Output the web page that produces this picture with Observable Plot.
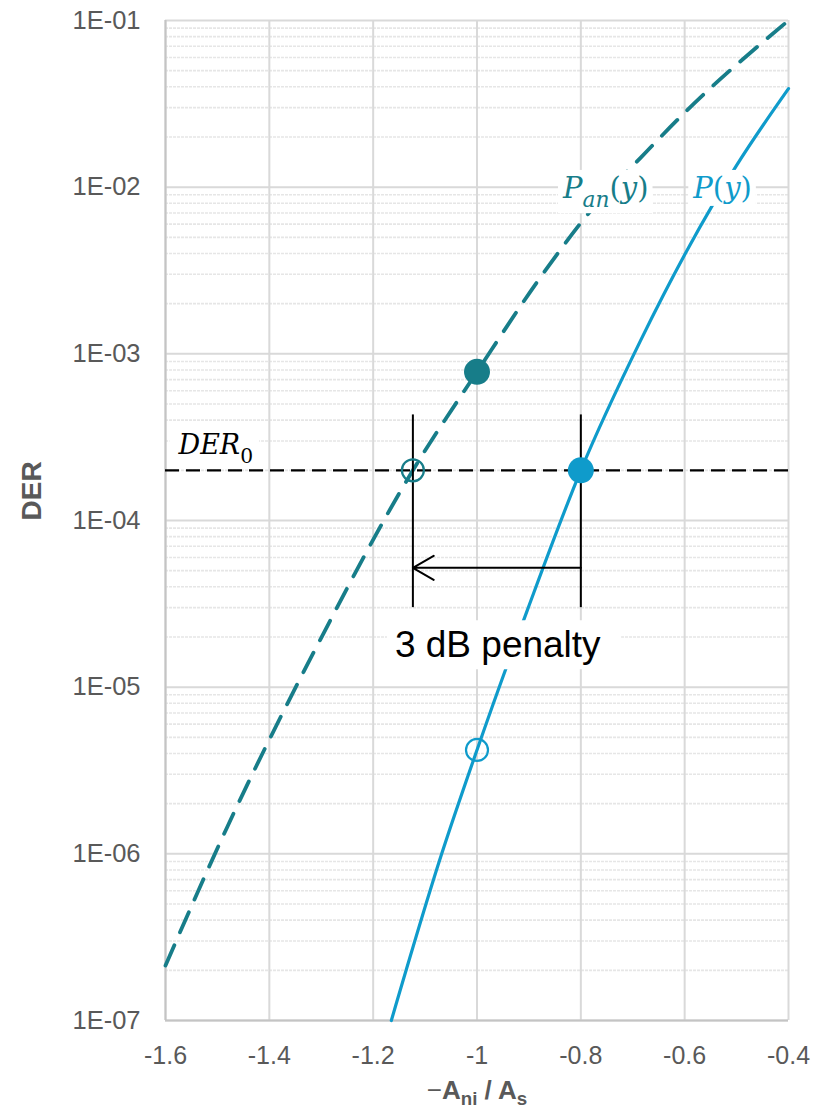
<!DOCTYPE html>
<html>
<head>
<meta charset="utf-8">
<script src="https://cdn.jsdelivr.net/npm/d3@7"></script>
<script src="https://cdn.jsdelivr.net/npm/@observablehq/plot@0.6"></script>
<style>
  body { margin: 0; background: #ffffff; }
  #chart svg { display: block; }
</style>
</head>
<body>
<div id="chart"></div>
<script>
// Axis ticks
const xTicks = [-1.6, -1.4, -1.2, -1, -0.8, -0.6, -0.4];
const xTickLabels = ["-1.6", "-1.4", "-1.2", "-1", "-0.8", "-0.6", "-0.4"];
const yTicks = [1e-7, 1e-6, 1e-5, 1e-4, 1e-3, 1e-2, 1e-1];
const yTickLabels = ["1E-07", "1E-06", "1E-05", "1E-04", "1E-03", "1E-02", "1E-01"];

// P_an(y)
const panX = [-1.6, -1.481, -1.311, -1.1235, -1.0, -0.877, -0.775, -0.685, -0.595, -0.4];
const panDER = [2.14e-7, 1.45e-6, 1.70e-5, 2.0e-4, 7.8e-4, 2.9e-3, 7.6e-3, 1.5e-2, 2.9e-2, 1.0e-1];

// P(y)
const pX = [-1.165, -1.068, -1.0, -0.903, -0.8, -0.685, -0.595, -0.5, -0.4];
const pDER = [1.0e-7, 1.0e-6, 4.2e-6, 2.9e-5, 2.0e-4, 1.2e-3, 4.2e-3, 1.35e-2, 3.9e-2];

// Highlighted operating points
const filledX = [-1.0, -0.8];
const filledDER = [7.8e-4, 2.0e-4];
const filledSeries = ["Pan", "P"];
const openX = [-1.1235, -1.0];
const openDER = [2.0e-4, 4.2e-6];
const openSeries = ["Pan", "P"];

// Target error rate and the penalty annotation
const DER0 = 2.0e-4;
const penaltyX = [-1.1235, -0.8];
const penaltyTop = 4.3e-4;
const penaltyBottom = 3.0e-5;
const arrowDER = 5.2e-5;
const penaltyLabel = "3 dB penalty";
const penaltyLabelX = -0.96;
const penaltyLabelDER = 1.78e-5;

// Curve labels
const curveLabelX = [-0.752, -0.527];
const curveLabelDER = [9.8e-3, 9.8e-3];
const curveLabelText = ["Pan(y)", "P(y)"];
const curveLabelSeries = ["Pan", "P"];

const PAN_COLOR = "#177d89";
const P_COLOR = "#0f9bcb";
const seriesColor = s => s === "Pan" ? PAN_COLOR : P_COLOR;

const minorTicks = d3.scaleLog().domain([1e-7, 1e-1]).ticks()
  .filter(t => !yTicks.some(m => Math.abs(m - t) / m < 1e-9));

const rows = (xs, ys, extra = {}) => xs.map((x, i) => {
  const r = { x, y: ys[i] };
  for (const k in extra) r[k] = extra[k][i];
  return r;
});

const panData = rows(panX, panDER);
const pData = rows(pX, pDER);
const filledData = rows(filledX, filledDER, { s: filledSeries });
const openData = rows(openX, openDER, { s: openSeries });
const curveLabels = rows(curveLabelX, curveLabelDER, { t: curveLabelText, s: curveLabelSeries });

const chart = Plot.plot({
  width: 815,
  height: 1112,
  marginTop: 20,
  marginBottom: 92,
  marginLeft: 165,
  marginRight: 27,
  style: { fontFamily: "'Liberation Sans', Arial, sans-serif", fontSize: "25px", background: "#ffffff", overflow: "visible" },
  x: { domain: [-1.6, -0.4] },
  y: { type: "log", domain: [1e-7, 1e-1] },
  marks: [
    // grid
    Plot.ruleY(minorTicks, { stroke: "#e6e6e6", strokeWidth: 1.6, strokeDasharray: "3,1" }),
    Plot.ruleY(yTicks, { stroke: "#d9d9d9", strokeWidth: 2 }),
    Plot.ruleX(xTicks, { stroke: "#d9d9d9", strokeWidth: 2 }),
    Plot.ruleX([-1.6], { stroke: "#c4c4c4", strokeWidth: 2 }),
    Plot.ruleY([1e-7], { stroke: "#c4c4c4", strokeWidth: 2 }),

    // axes
    Plot.axisY(yTicks, {
      tickSize: 0, tickPadding: 25, label: null, color: "#595959", fontSize: 25.5,
      tickFormat: d => yTickLabels[yTicks.indexOf(d)]
    }),
    Plot.axisX(xTicks, {
      tickSize: 0, tickPadding: 26, label: null, color: "#595959", fontSize: 25,
      tickFormat: d => xTickLabels[xTicks.indexOf(d)]
    }),

    // curves
    Plot.line(panData, {
      x: "x", y: "y", curve: "monotone-x", stroke: PAN_COLOR, strokeWidth: 3.8,
      strokeDasharray: "22,14", strokeLinecap: "round"
    }),
    Plot.line(pData, { x: "x", y: "y", curve: "monotone-x", stroke: P_COLOR, strokeWidth: 3.2 }),

    // DER0 level
    Plot.ruleY([DER0], { stroke: "#000000", strokeWidth: 2.2, strokeDasharray: "14,7" }),

    // penalty markers
    Plot.ruleX(penaltyX, { y1: penaltyTop, y2: penaltyBottom, stroke: "#000000", strokeWidth: 2 }),
    Plot.arrow([0], {
      x1: () => penaltyX[1], x2: () => penaltyX[0], y1: () => arrowDER, y2: () => arrowDER,
      stroke: "#000000", strokeWidth: 2, headLength: 18, headAngle: 60
    }),

    // points
    Plot.dot(openData, { x: "x", y: "y", r: 11, stroke: d => seriesColor(d.s), strokeWidth: 2.2, fill: "none" }),
    Plot.dot(filledData, { x: "x", y: "y", r: 13, fill: d => seriesColor(d.s), stroke: "none" }),

    // text
    Plot.text(curveLabels, {
      x: "x", y: "y", text: "t", fill: d => seriesColor(d.s),
      fontFamily: "'DejaVu Serif', serif", fontSize: 29, textAnchor: "middle", lineAnchor: "middle"
    }),
    Plot.text(["DER0"], {
      x: () => -1.6, y: () => DER0, dx: 13, dy: -25, text: d => d, textAnchor: "start", lineAnchor: "middle",
      fill: "#000000", fontFamily: "'DejaVu Serif', serif", fontSize: 27
    }),
    Plot.text([penaltyLabel], {
      x: () => penaltyLabelX, y: () => penaltyLabelDER, text: d => d, textAnchor: "middle", lineAnchor: "middle",
      fill: "#000000", fontSize: 37
    }),
    Plot.text(["DER"], {
      frameAnchor: "left", dx: -133, rotate: -90, text: d => d,
      fill: "#595959", fontWeight: "bold", fontSize: 28
    }),
    Plot.text(["−Ani / As"], {
      frameAnchor: "bottom", dy: 70, text: d => d, lineAnchor: "middle",
      fill: "#595959", fontWeight: "bold", fontSize: 26
    })
  ]
});

document.getElementById("chart").appendChild(chart);

// Rich text: italics and subscripts inside single text elements
const NS = "http://www.w3.org/2000/svg";
function richText(plain, parts, fontSize, box, subShift = 0.32) {
  chart.querySelectorAll("text").forEach(t => {
    if (t.textContent !== plain) return;
    t.textContent = "";
    let shift = 0;
    for (const p of parts) {
      const ts = document.createElementNS(NS, "tspan");
      ts.textContent = p.s;
      const target = p.sub ? fontSize * subShift : 0;
      if (target !== shift) { ts.setAttribute("dy", target - shift); shift = target; }
      ts.setAttribute("font-size", p.sub ? fontSize * (p.subScale || 0.7) : fontSize);
      ts.setAttribute("font-style", p.italic ? "italic" : "normal");
      if (p.weight) ts.setAttribute("font-weight", p.weight);
      t.appendChild(ts);
    }
    if (box) addBox(t, box);
  });
}
// White backing box behind a label (padding: top, right, bottom, left)
function addBox(t, pad) {
  const b = t.getBBox();
  const r = document.createElementNS(NS, "rect");
  r.setAttribute("x", b.x - pad[3]);
  r.setAttribute("y", b.y - pad[0]);
  r.setAttribute("width", b.width + pad[1] + pad[3]);
  r.setAttribute("height", b.height + pad[0] + pad[2]);
  r.setAttribute("fill", "#ffffff");
  r.setAttribute("stroke", "none");
  if (t.getAttribute("transform")) r.setAttribute("transform", t.getAttribute("transform"));
  t.parentNode.insertBefore(r, t);
}

richText("Pan(y)", [
  { s: "P", italic: true }, { s: "an", italic: true, sub: true, subScale: 0.75 },
  { s: "(", italic: false }, { s: "y", italic: true }, { s: ")", italic: false }
], 29, [1, 4, 1, 4]);
richText("P(y)", [
  { s: "P", italic: true }, { s: "(", italic: false }, { s: "y", italic: true }, { s: ")", italic: false }
], 29, [1, 4, 1, 4]);
richText("DER0", [
  { s: "DER", italic: true }, { s: "0", italic: false, sub: true, subScale: 0.75 }
], 27, [0, 6, -4, 8]);
richText(penaltyLabel, [{ s: penaltyLabel }], 37, [4, 20, 4, 8]);
richText("−Ani / As", [
  { s: "−", weight: "normal" }, { s: "A" }, { s: "ni", sub: true, subScale: 0.72 },
  { s: " / A" }, { s: "s", sub: true, subScale: 0.72 }
], 26, null, 0.24);
</script>
</body>
</html>
